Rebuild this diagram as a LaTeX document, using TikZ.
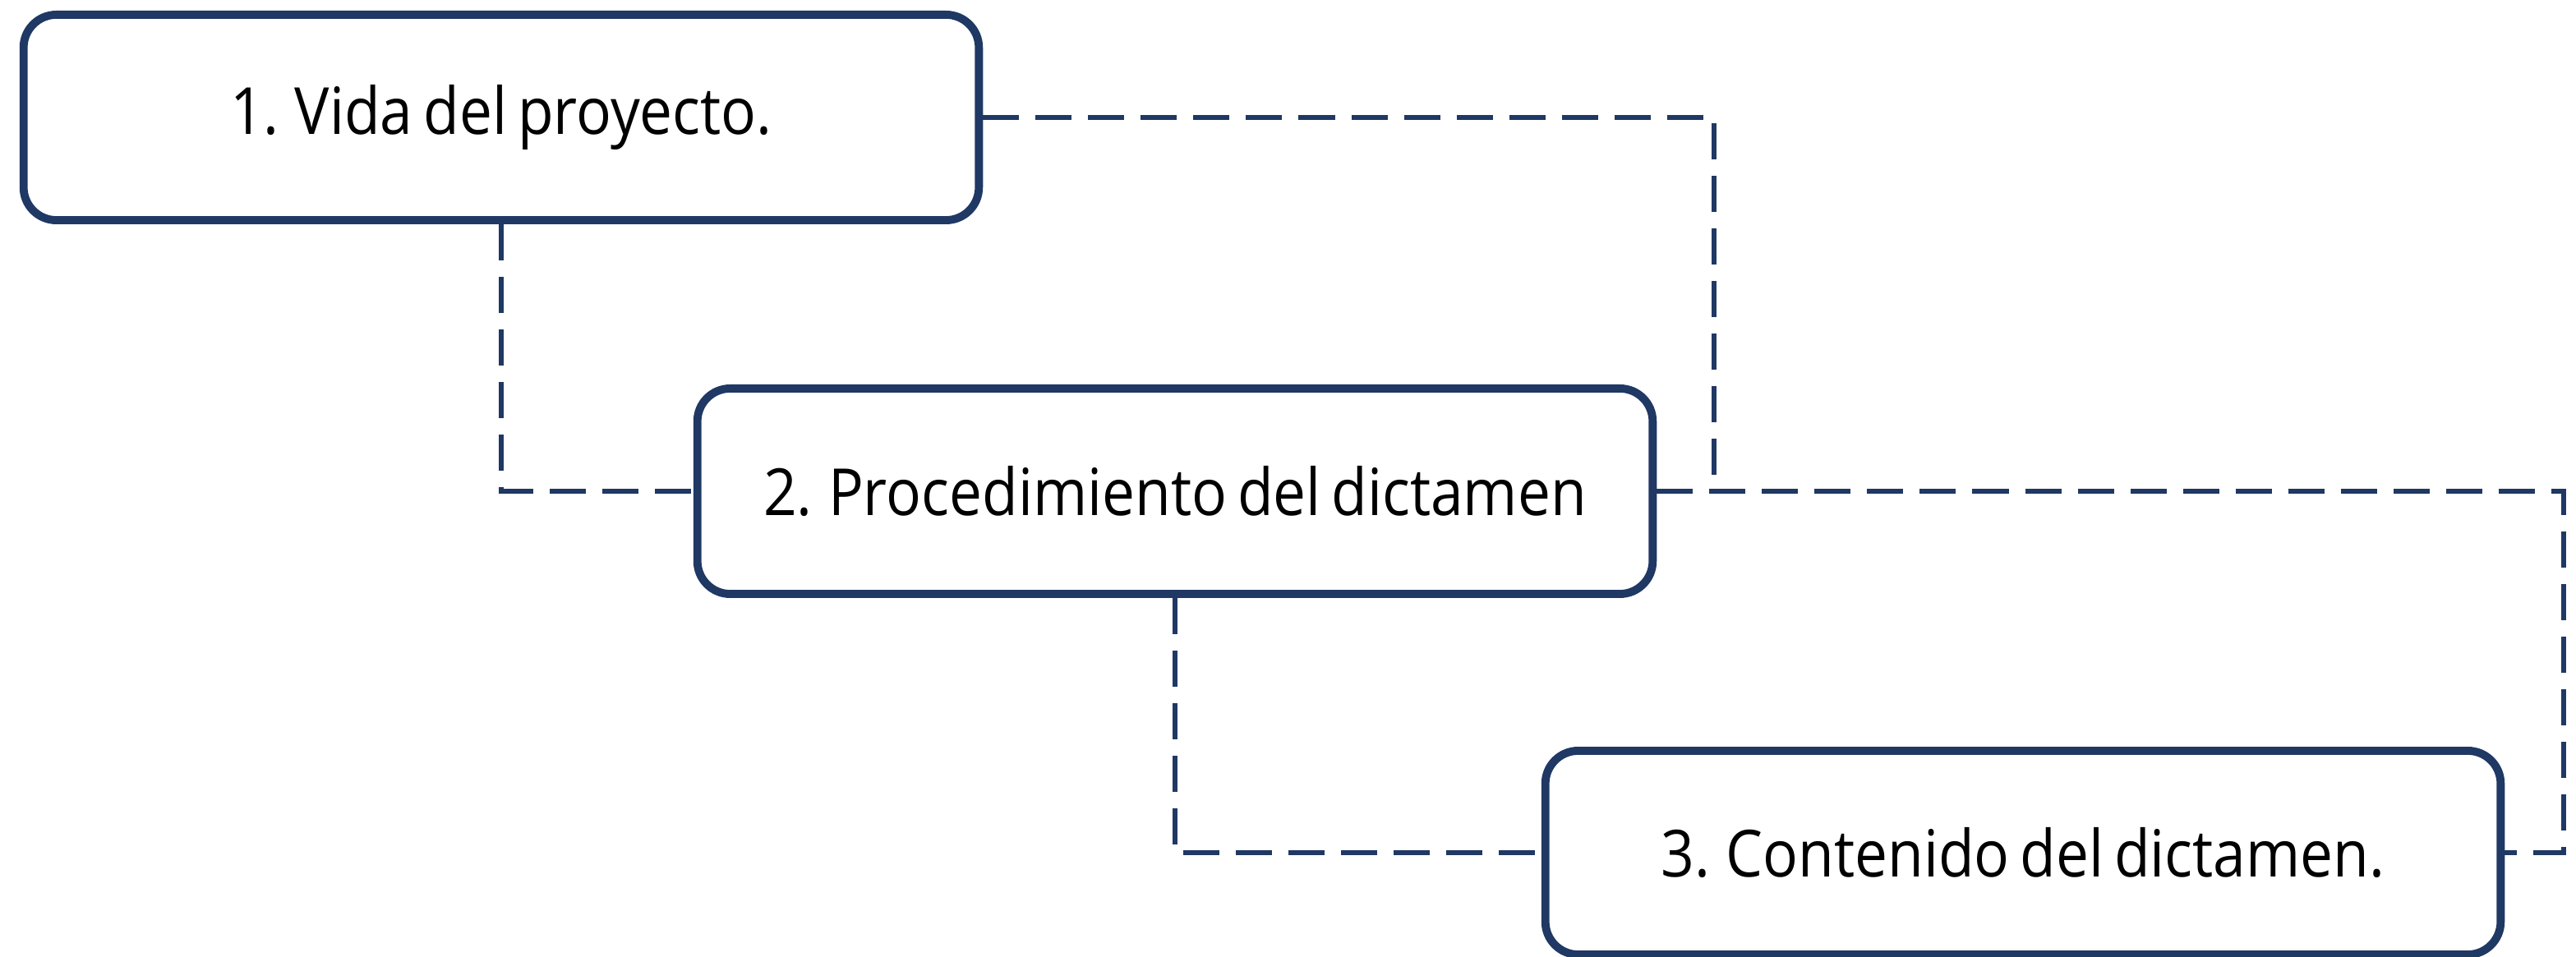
\documentclass[tikz,border=0pt]{standalone}
\usepackage{fontspec}
\setmainfont{Open Sans}[FakeStretch=0.9,WordSpace=0.7]
\definecolor{navy}{RGB}{31,56,100}
\tikzset{
  caja/.style={draw=navy, fill=white, line width=2.8pt, rounded corners=0.4cm,
    minimum width=11.62cm, minimum height=2.5cm, inner sep=0pt,
    font=\fontsize{22.5}{26}\selectfont},
  enlace/.style={draw=navy, line width=1.5pt, dash pattern=on 0.44cm off 0.2cm}
}
\begin{document}
\begin{tikzpicture}
    \def\x{0.01}
    \useasboundingbox (0,0) rectangle (3135*\x,-1165*\x);
    % cajas
    \node[caja] (B1) at (610*\x, -143*\x) {1. Vida del proyecto.};
    \node[caja] (B2) at (1430*\x, -598*\x) {2. Procedimiento del dictamen};
    \node[caja, minimum height=2.48cm] (B3) at (2462*\x, -1038*\x) {3. Contenido del dictamen.};
    \coordinate (C1) at (2086*\x, 0);
    \coordinate (C2) at (3120*\x, 0);
    % lineas
    \draw[enlace] (B1.east) -| (C1 |- B2.east);
    \draw[enlace] (B2.east) -| (C2 |- B3.east) -- (B3.east);
    \draw[enlace] (B1.south) |- (B2.west);
    \draw[enlace] (B2.south) |- (B3.west);
\end{tikzpicture}
\end{document}
